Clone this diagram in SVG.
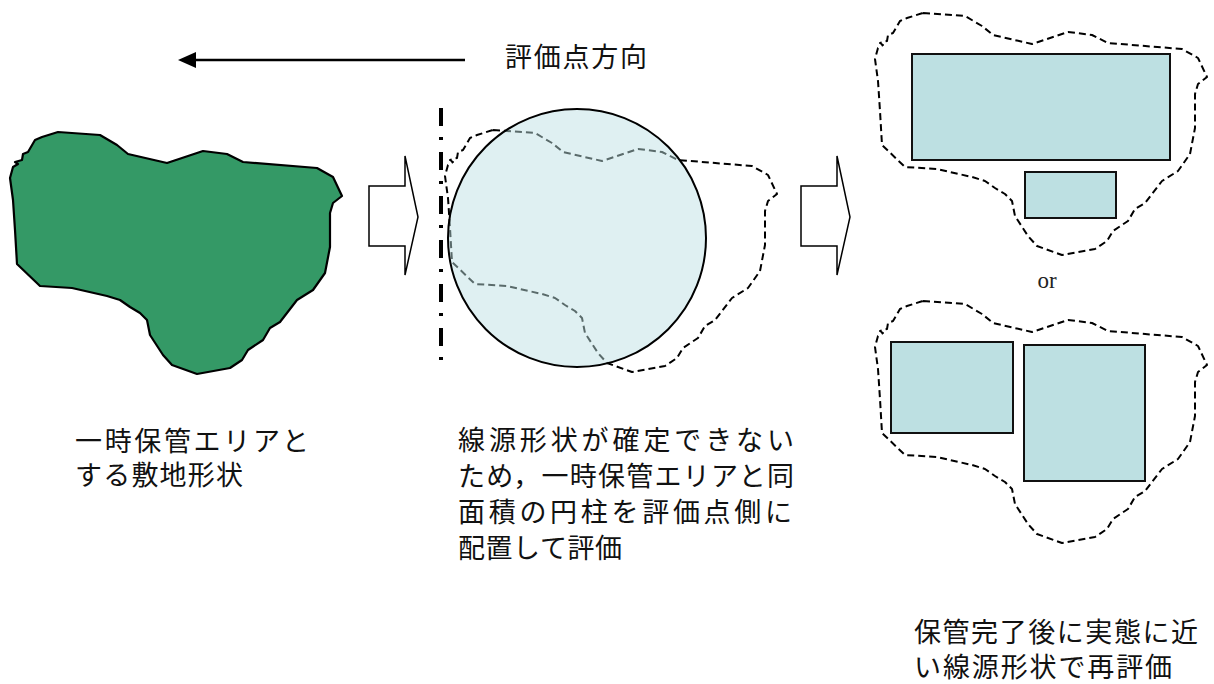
<svg xmlns="http://www.w3.org/2000/svg" xmlns:xlink="http://www.w3.org/1999/xlink" width="1214" height="684" viewBox="0 0 1214 684">
<style>
.txt{font-family:"Liberation Serif","Noto Sans CJK JP",serif;font-size:27px;fill:#111}
.site{fill:#349966;stroke:#000;stroke-width:2.2;stroke-linejoin:round}
.dash{fill:none;stroke:#000;stroke-width:2;stroke-dasharray:7,4;stroke-linejoin:round}
.dashg{fill:none;stroke:#5a6b6b;stroke-width:2;stroke-dasharray:7,4;stroke-linejoin:round}
.rect{fill:#bde0e2;stroke:#111;stroke-width:2}
.block{fill:#fff;stroke:#000;stroke-width:1.5;stroke-linejoin:miter}
</style>
<defs>
<path id="shape" d="M58,132 L100,135 L117,145 L128,154 L167,163 L203,151 L227,154 L243,162 L317,168 L333,177 L342,196 L333,203 L330,213 L330,247 L325,273 L313,290 L297,300 L280,322 L270,328 L263,340 L248,350 L242,360 L230,368 L197,374 L172,365 L163,355 L150,335 L147,320 L140,313 L130,307 L120,300 L107,296 L72,288 L40,286 L17,264 L15,230 L13,200 L10,178 L13,167 L18,164 L15,162 L22,160 L23,154 L28,152 L35,140 L42,137 Z"/>
<clipPath id="circ"><circle cx="577" cy="238" r="129"/></clipPath>
</defs>

<g id="connectors">
<line x1="465" y1="60" x2="188" y2="60" stroke="#000" stroke-width="2.5"/>
<path d="M178,60 L196,52 L196,68 Z" fill="#000"/>
<polygon class="block" points="369,186 405,186 405,156 418,217 405,275 405,246 369,246"/>
<polygon class="block" points="801,186 837,186 837,156 850,217 837,275 837,246 801,246"/>
</g>

<g id="title"><text class="txt" x="505" y="67" font-size="26" textLength="142" lengthAdjust="spacing">評価点方向</text></g>

<g id="site-shape">
<use xlink:href="#shape" class="site"/>
<text class="txt" x="75" y="451" textLength="234" lengthAdjust="spacing">一時保管エリアと</text>
<text class="txt" x="75" y="485" textLength="168" lengthAdjust="spacing">する敷地形状</text>
</g>

<g id="cylinder">
<line x1="441" y1="108" x2="441" y2="372" stroke="#000" stroke-width="4" stroke-dasharray="18,11,3,12"/>
<use xlink:href="#shape" class="dash" transform="translate(435,-2)"/>
<circle cx="577" cy="238" r="129" fill="#dff0f2"/>
<g clip-path="url(#circ)"><use xlink:href="#shape" class="dashg" transform="translate(435,-2)"/></g>
<circle cx="577" cy="238" r="129" fill="none" stroke="#000" stroke-width="2"/>
<text class="txt" x="458" y="450" textLength="336" lengthAdjust="spacing">線源形状が確定できない</text>
<text class="txt" x="458" y="486" textLength="336" lengthAdjust="spacing">ため，一時保管エリアと同</text>
<text class="txt" x="458" y="522" textLength="334" lengthAdjust="spacing">面積の円柱を評価点側に</text>
<text class="txt" x="458" y="558" textLength="164" lengthAdjust="spacing">配置して評価</text>
</g>

<g id="option-a">
<use xlink:href="#shape" class="dash" transform="translate(865,-119)"/>
<rect class="rect" x="912" y="54" width="258" height="106"/>
<rect class="rect" x="1025" y="172" width="91" height="46"/>
</g>

<g id="or-label"><text x="1047" y="288" font-family="Liberation Serif, serif" font-size="23" text-anchor="middle" fill="#222">or</text></g>

<g id="option-b">
<use xlink:href="#shape" class="dash" transform="translate(865,169)"/>
<rect class="rect" x="891" y="342" width="122" height="91"/>
<rect class="rect" x="1024" y="345" width="121" height="136"/>
</g>

<g id="reeval">
<text class="txt" x="914" y="642" textLength="284" lengthAdjust="spacing">保管完了後に実態に近</text>
<text class="txt" x="914" y="677" textLength="258" lengthAdjust="spacing">い線源形状で再評価</text>
</g>
</svg>
